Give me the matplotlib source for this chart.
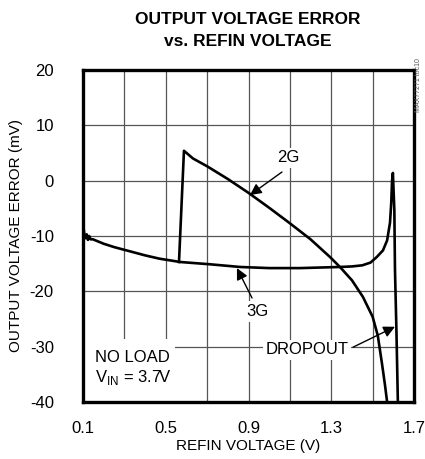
import matplotlib
matplotlib.use("Agg")
import matplotlib.pyplot as plt

plt.rcParams['font.family'] = ['Liberation Sans Narrow', 'Liberation Sans', 'DejaVu Sans']
plt.rcParams['axes.unicode_minus'] = False

# 3G curve (REFIN V, error mV)
x_3g = [0.100, 0.106, 0.112, 0.118, 0.124, 0.130, 0.137, 0.148, 0.20, 0.25, 0.31, 0.40,
        0.47, 0.57, 0.71, 0.86, 1.00, 1.15, 1.34, 1.40, 1.45, 1.49, 1.52, 1.55, 1.57,
        1.584, 1.590, 1.594, 1.598, 1.601, 1.605, 1.608, 1.615, 1.622]
y_3g = [-7.5, -9.6, -10.4, -9.7, -10.7, -10.0, -10.6, -10.6, -11.4, -12.0, -12.6, -13.5,
        -14.1, -14.7, -15.1, -15.6, -15.8, -15.8, -15.6, -15.5, -15.3, -14.8, -13.8, -12.6, -10.8,
        -7.6, -4.0, 0.0, 1.4, -1.5, -5.3, -16.0, -27.0, -40.0]

# 2G curve
x_2g = [0.564, 0.588, 0.632, 0.70, 0.80, 0.90, 1.00, 1.10, 1.20, 1.294, 1.342, 1.40, 1.453,
        1.50, 1.525, 1.545, 1.56, 1.57]
y_2g = [-14.7, 5.4, 4.0, 2.6, 0.3, -2.2, -4.9, -7.7, -10.6, -13.8, -15.6, -18.0, -21.0,
        -24.6, -28.0, -33.0, -37.0, -40.0]

x_ticks = [0.1, 0.5, 0.9, 1.3, 1.7]
y_ticks = [-40, -30, -20, -10, 0, 10, 20]

fig = plt.figure(figsize=(4.25, 4.59), dpi=100)
ax = fig.add_axes([83/425, 1-402/459, (414-83)/425, (402-70)/459])

ax.set_xlim(0.1, 1.7)
ax.set_ylim(-40, 20)
ax.set_xticks(x_ticks)
ax.set_xticklabels([f"{v:.1f}" for v in x_ticks])
ax.set_yticks(y_ticks)
ax.set_yticklabels([str(v) for v in y_ticks])
ax.set_xticks([0.1 + 0.2*i for i in range(9)], minor=True)
ax.grid(True, which='both', axis='x', color='#555555', lw=0.9)
ax.grid(True, which='major', axis='y', color='#555555', lw=0.9)
ax.set_axisbelow(True)
ax.tick_params(which='both', length=0)
ax.tick_params(axis='y', pad=21, labelsize=12)
ax.tick_params(axis='x', pad=14, labelsize=12)
for s in ax.spines.values():
    s.set_linewidth(2.4)

ax.plot(x_3g, y_3g, color='black', lw=1.9, zorder=3)
ax.plot(x_2g, y_2g, color='black', lw=1.9, zorder=3)

box = dict(facecolor='white', edgecolor='none', pad=2)
ap = dict(arrowstyle='-|>', color='black', lw=1.0, mutation_scale=17, shrinkA=0, shrinkB=0)

ax.text(1.091, 4.1, "2G", ha='center', va='center', fontsize=12, bbox=box, zorder=4)
ax.annotate('', xy=(0.907, -2.6), xytext=(1.062, 1.57), arrowprops=ap, zorder=4)

ax.text(0.941, -23.7, "3G", ha='center', va='center', fontsize=12, bbox=box, zorder=4)
ax.annotate('', xy=(0.844, -15.8), xytext=(0.917, -21.2), arrowprops=ap, zorder=4)

ax.text(1.183, -30.6, "DROPOUT", ha='center', va='center', fontsize=12, bbox=box, zorder=4)
ax.annotate('', xy=(1.608, -26.4), xytext=(1.405, -30.1), arrowprops=ap, zorder=4)

ax.add_patch(plt.Rectangle((0.1, -40), 0.445, 11.3, facecolor='white', edgecolor='none', zorder=2))
ax.text(0.158, -31.9, "NO LOAD", ha='left', va='center', fontsize=12, zorder=4)
ax.text(0.158, -35.6, r"V$_{\mathregular{IN}}$ = 3.7V", ha='left', va='center', fontsize=12, zorder=4)

ax.set_xlabel("REFIN VOLTAGE (V)", fontsize=11)
ax.set_ylabel("OUTPUT VOLTAGE ERROR (mV)", fontsize=11)
ax.yaxis.set_label_coords(-0.18, 0.5)
ax.xaxis.set_label_coords(0.5, -0.11)

fig.text(248/425, 1-19/459, "OUTPUT VOLTAGE ERROR", ha='center', va='center', fontsize=12.5, fontweight='bold')
fig.text(248/425, 1-42/459, "vs. REFIN VOLTAGE", ha='center', va='center', fontsize=12.5, fontweight='bold')
fig.text(419/425, 1-85/459, "MAX77271 toc10", rotation=90, ha='center', va='center', fontsize=5, color='#555555')

fig.savefig("out.png", dpi=100)
